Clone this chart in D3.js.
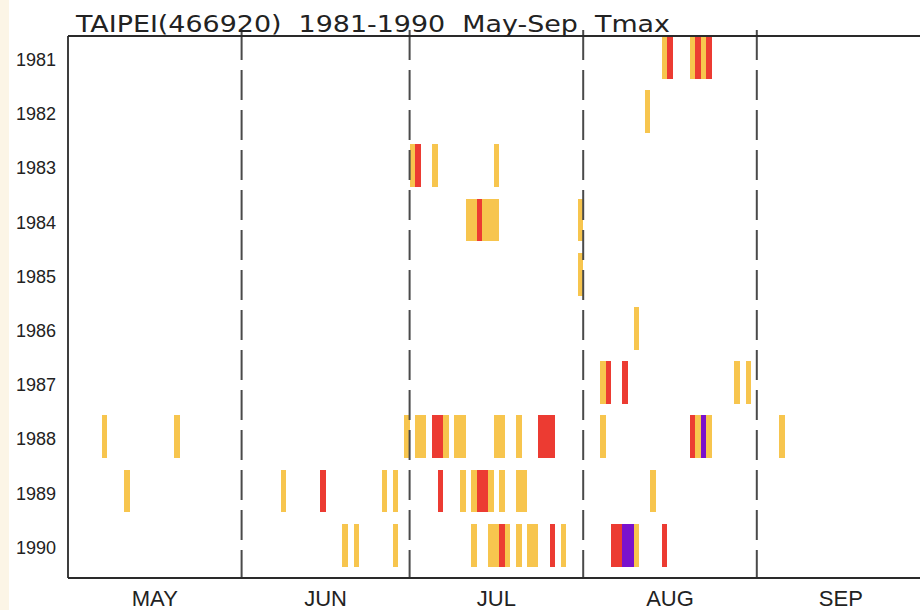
<!DOCTYPE html>
<html>
<head>
<meta charset="utf-8">
<script src="https://cdn.jsdelivr.net/npm/d3@7"></script>
<style>
  html, body { margin: 0; padding: 0; background: #ffffff; }
  svg { display: block; }
</style>
</head>
<body>
<svg id="chart" width="920" height="610"></svg>
<script>
// ---------------- data ----------------
const title = "TAIPEI(466920)  1981-1990  May-Sep  Tmax";
const years = [1981, 1982, 1983, 1984, 1985, 1986, 1987, 1988, 1989, 1990];
const monthLabels = ["MAY", "JUN", "JUL", "AUG", "SEP"];
const monthStarts = ["05-01", "06-01", "07-01", "08-01", "09-01", "10-01"];

// hot days, lowest level (yellow)
const level1Days = [
  "1981-08-15", "1981-08-20", "1981-08-22",
  "1982-08-12",
  "1983-07-01", "1983-07-05", "1983-07-16",
  "1984-07-11", "1984-07-12", "1984-07-14", "1984-07-15", "1984-07-16", "1984-07-31",
  "1985-07-31",
  "1986-08-10",
  "1987-08-04", "1987-08-28", "1987-08-30",
  "1988-05-07", "1988-05-20", "1988-06-30", "1988-07-02", "1988-07-03", "1988-07-07",
  "1988-07-09", "1988-07-10", "1988-07-16", "1988-07-17", "1988-07-20", "1988-08-04",
  "1988-08-21", "1988-08-23", "1988-09-05",
  "1989-05-11", "1989-06-08", "1989-06-26", "1989-06-28", "1989-07-10", "1989-07-12",
  "1989-07-15", "1989-07-17", "1989-07-20", "1989-07-21", "1989-08-13",
  "1990-06-19", "1990-06-21", "1990-06-28", "1990-07-12", "1990-07-15", "1990-07-16",
  "1990-07-18", "1990-07-20", "1990-07-22", "1990-07-23", "1990-07-28", "1990-08-10"
];
// hot days, middle level (red)
const level2Days = [
  "1981-08-16", "1981-08-21", "1981-08-23",
  "1983-07-02",
  "1984-07-13",
  "1987-08-05", "1987-08-08",
  "1988-07-05", "1988-07-06", "1988-07-24", "1988-07-25", "1988-07-26", "1988-08-20",
  "1989-06-15", "1989-07-06", "1989-07-13", "1989-07-14",
  "1990-07-17", "1990-07-26", "1990-08-06", "1990-08-07", "1990-08-15"
];
// hot days, highest level (purple)
const level3Days = [
  "1988-08-22",
  "1990-08-08", "1990-08-09"
];
const levelColors = ["#f7c54e", "#ec3b32", "#7a12cc"];

(function () {
  // ---------------- layout ----------------
  const W = 920, H = 610;
  const padL = 68, padT = 36, padB = 578;
  const dayPx = 5.6;
  const refYear = 2000;
  const parseMD = d3.timeParse("%Y-%m-%d");
  const refDate = md => parseMD(refYear + "-" + md);

  const x = d3.scaleTime()
    .domain([refDate("05-01"), refDate("10-01")])
    .range([padL, padL + 153 * dayPx]);

  const y = d3.scaleBand()
    .domain(years)
    .range([padT, padB]);

  const svg = d3.select("#chart");

  // cream strip at left edge
  svg.append("rect").attr("x", 0).attr("y", 0).attr("width", 9).attr("height", H)
    .attr("fill", "#fcf5e6");

  // events
  const events = [];
  [level1Days, level2Days, level3Days].forEach((arr, li) => {
    arr.forEach(s => {
      const yr = +s.slice(0, 4);
      const md = s.slice(5);
      events.push({ year: yr, date: refDate(md), level: li });
    });
  });

  const barH = y.bandwidth() * 0.79;
  svg.append("g").attr("shape-rendering", "crispEdges")
    .selectAll("rect").data(events).join("rect")
    .attr("x", d => x(d.date))
    .attr("width", d => x(d3.timeDay.offset(d.date, 1)) - x(d.date))
    .attr("y", d => y(d.year))
    .attr("height", barH)
    .attr("fill", d => levelColors[d.level]);

  // month dashed separators
  const sepDates = monthStarts.slice(1, 5).map(refDate);
  svg.append("g").selectAll("line").data(sepDates).join("line")
    .attr("x1", d => x(d)).attr("x2", d => x(d))
    .attr("y1", 30).attr("y2", padB)
    .attr("stroke", "#4a4a4a").attr("stroke-width", 2)
    .attr("stroke-dasharray", "30,10");

  // frame
  const frame = svg.append("g").attr("stroke", "#2a2a2a").attr("stroke-width", 1.8);
  frame.append("line").attr("x1", padL).attr("x2", W).attr("y1", padT).attr("y2", padT);
  frame.append("line").attr("x1", padL).attr("x2", W).attr("y1", padB).attr("y2", padB);
  frame.append("line").attr("x1", padL).attr("x2", padL).attr("y1", padT).attr("y2", padB);

  // year labels
  svg.append("g").selectAll("text").data(years).join("text")
    .attr("x", 56)
    .attr("y", d => y(d) + 30)
    .attr("text-anchor", "end")
    .attr("font-family", "'Liberation Sans', Arial, sans-serif")
    .attr("font-size", 18)
    .attr("fill", "#222")
    .text(d => d);

  // month labels
  const monthMid = monthLabels.map((m, i) => {
    const a = x(refDate(monthStarts[i])), b = x(refDate(monthStarts[i + 1]));
    return { label: m, cx: (a + b) / 2 };
  });
  svg.append("g").selectAll("text").data(monthMid).join("text")
    .attr("x", d => d.cx)
    .attr("y", 606)
    .attr("text-anchor", "middle")
    .attr("font-family", "'Liberation Sans', Arial, sans-serif")
    .attr("font-size", 22)
    .attr("fill", "#222")
    .text(d => d.label);

  // title
  svg.append("text")
    .attr("x", 76)
    .attr("y", 31.5)
    .attr("font-family", "'DejaVu Sans', 'Liberation Sans', sans-serif")
    .attr("font-size", 23)
    .attr("fill", "#222")
    .attr("textLength", 594)
    .attr("lengthAdjust", "spacingAndGlyphs")
    .style("white-space", "pre")
    .text(title);
})();
</script>
</body>
</html>
